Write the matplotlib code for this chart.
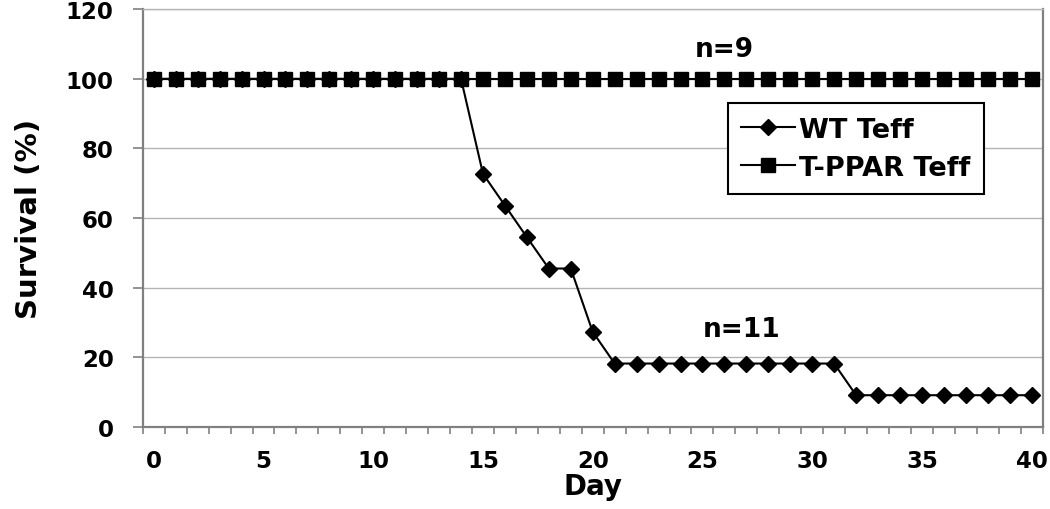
import matplotlib
matplotlib.use('Agg')

import numpy as np
import matplotlib.pyplot as plt


days = list(range(0, 41))
wt_teff = [100.0] * 15 + [72.7, 63.6, 54.5, 45.5, 45.5, 27.3] \
          + [18.2] * 11 + [9.1] * 9
tppar_teff = [100.0] * 41

plt.rcParams['font.family'] = ['DejaVu Sans']
plt.rcParams['font.weight'] = 'bold'

fig = plt.figure(figsize=(10.5, 5.1), dpi=100)
ax = fig.add_axes([0.136, 0.161, 0.857, 0.819])

ax.plot(days, wt_teff, color='black', lw=1.5, marker='D', ms=8,
        label='WT Teff', zorder=3)
ax.plot(days, tppar_teff, color='black', lw=1.5, marker='s', ms=10,
        label='T-PPAR Teff', zorder=4)

ax.set_xlim(-0.5, 40.5)
ax.set_ylim(0, 120)
ax.set_xticks(np.arange(0, 41, 5))
ax.set_xticks(np.arange(-0.5, 41, 1), minor=True)
ax.set_yticks(np.arange(0, 121, 20))
ax.tick_params(axis='x', which='major', length=0, pad=16, labelsize=16.5)
ax.tick_params(axis='x', which='minor', length=5, width=1.2, color='#808080')
ax.tick_params(axis='y', length=7, width=1.2, color='#808080', pad=14, labelsize=16.5)

ax.grid(axis='y', color='#b4b4b4', lw=1.0)
ax.set_axisbelow(True)
for side in ['left', 'bottom', 'right']:
    ax.spines[side].set_color('#808080')
    ax.spines[side].set_linewidth(1.6)
ax.spines['top'].set_color('#b4b4b4')
ax.spines['top'].set_linewidth(1.0)

ax.set_xlabel('Day', fontsize=20, fontweight='bold', labelpad=0)
ax.set_ylabel('Survival (%)', fontsize=21, fontweight='bold', labelpad=16)

ax.text(26.0, 108.6, 'n=9', fontsize=19, fontweight='bold', ha='center', va='center')
ax.text(26.8, 28.0, 'n=11', fontsize=19, fontweight='bold', ha='center', va='center')

leg = ax.legend(loc='upper left', bbox_to_anchor=(0.65, 0.775), fontsize=19.5,
                frameon=True, fancybox=False, edgecolor='black', framealpha=1,
                handlelength=2.0, handletextpad=0.15, borderpad=0.5,
                labelspacing=0.45, borderaxespad=0)
leg.get_frame().set_linewidth(1.5)

plt.savefig('out.png', dpi=100)
